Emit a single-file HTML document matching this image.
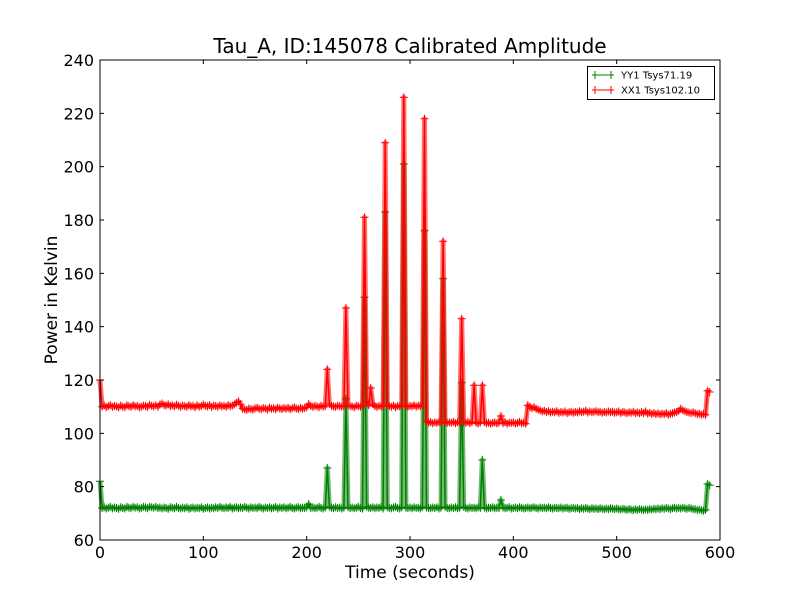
<!DOCTYPE html>
<html><head><meta charset="utf-8"><style>
html,body{margin:0;padding:0;background:#fff;}
svg text{font-family:"DejaVu Sans","Liberation Sans",sans-serif;fill:#000;}
</style></head><body>
<svg id="chart" width="800" height="600" viewBox="0 0 800 600">
<rect x="0" y="0" width="800" height="600" fill="#fff"/>
<g id="marks"></g>
<g id="axes"></g>
<text x="410" y="53" font-size="20" text-anchor="middle">Tau_A, ID:145078 Calibrated Amplitude</text>
<text x="410" y="578" font-size="17" text-anchor="middle">Time (seconds)</text>
<text x="57" y="300" font-size="17" text-anchor="middle" transform="rotate(-90 57 300)">Power in Kelvin</text>
<g>
<rect x="587.5" y="66.5" width="127" height="33" fill="#fff" stroke="#000" stroke-width="1"/>
<g>
<line x1="592" y1="75" x2="614" y2="75" stroke="green" stroke-width="1"/>
<line x1="595" y1="71" x2="595" y2="79" stroke="green"/><line x1="611" y1="71" x2="611" y2="79" stroke="green"/>
<text x="621" y="78.5" font-size="10">YY1 Tsys71.19</text></g>
<g>
<line x1="592" y1="90" x2="614" y2="90" stroke="red" stroke-width="1"/>
<line x1="595" y1="86" x2="595" y2="94" stroke="red"/><line x1="611" y1="86" x2="611" y2="94" stroke="red"/>
<text x="621" y="93.5" font-size="10">XX1 Tsys102.10</text></g>
</g>
</svg>
<script>
const tStep = 2;
const yy1 = [
82,72,72.3,71.8,72.1,72.4,71.9,72.2,72,71.7,
72.3,72,71.8,72.4,72.1,71.9,72.5,72.1,72.3,71.8,
72,72.4,72.2,71.9,72.5,72.3,72.1,72.4,72,72.2,
71.8,72.2,72,71.7,72.3,72.1,71.9,72.4,72,71.8,
72.1,71.9,72.3,71.7,72,72.2,71.8,72.1,71.9,72.3,
71.7,72,72.2,71.8,72.1,71.9,72.3,72,72.4,72.1,
71.9,72.2,72,72.5,71.8,72.1,72.3,71.9,72.2,72,
72.4,72.1,71.8,72.3,72,72.2,71.9,72.4,72.1,71.8,
72.2,72,72.3,71.9,72.1,72.4,71.8,72.2,72,72.3,
71.9,72.1,72.4,72,71.8,72.2,72.3,71.9,72.1,72,
72.3,73.5,72,72.2,71.9,72.1,72.4,72,71.8,72.2,
87,72.5,72.1,71.9,72.3,72,72.2,71.8,72.1,113,
72.3,72,72.2,71.9,72.1,72.4,72,71.8,151,72.5,
72.1,72,72.3,71.9,72.2,72,72.4,71.8,183,72.3,
72,71.9,72.2,72.4,72,71.8,72.3,201,72.1,72,
72.2,71.9,72.3,72,72.1,71.8,72.4,176,72.2,72,
71.9,72.2,72,72.3,71.8,72.1,158,72.4,72,71.9,
72.2,72,72.3,71.9,72.1,119,72.4,72,71.8,72.2,
72,72.1,71.9,72.3,72,90,72.2,71.8,72.1,72,
72.3,71.9,72.1,72,75,72.2,71.9,72.1,72.3,71.8,
72,72.2,71.9,72.3,72.1,71.8,72,72.2,71.9,72.1,
72.3,72,71.8,72.2,72,72.1,71.9,72.3,72,71.8,
72.1,72,71.9,72.2,71.8,72,72.1,71.7,71.9,72,
71.8,72,71.6,71.9,71.7,72,71.8,71.5,71.9,71.7,
71.8,71.6,71.9,71.7,71.5,71.8,71.6,71.9,71.7,71.5,
71.8,71.6,71.4,71.7,71.5,71.3,71.6,71.4,71.2,71.5,
71.3,71.6,71.4,71.2,71.5,71.3,71.6,71.4,71.7,71.5,
71.8,71.6,71.9,71.7,72,71.8,71.6,71.9,72.1,71.8,
72,71.8,72.1,71.9,71.7,72,71.8,71.6,71.5,71.3,
71.4,71.2,71,71.3,81,80.5];
const xx1 = [
120,110,110.5,109.8,110.2,110.6,109.9,110.3,110.1,109.7,
110.4,110,109.8,110.5,110.2,109.9,110.6,110.1,110.3,109.8,
110,110.4,110.2,109.9,110.7,110.3,110.1,110.5,110,110.8,
111.2,110.6,110.4,110.9,110.2,110.5,110.1,110.7,110.3,110,
110.4,110.2,109.9,110.6,110.1,110.3,109.8,110.5,110,110.2,
110.8,110.3,110.1,110.6,109.9,110.4,110.2,110,110.5,110.1,
110.3,109.9,110.6,110.2,110.4,110.8,111.5,112,110.9,109.2,
109,108.8,109.3,109.1,108.9,109.4,109.6,109.2,109,109.5,
109.3,108.9,109.6,109.2,109.4,109,109.7,109.3,109.1,109.5,
109.2,109.6,109,109.4,109.8,109.3,109.1,109.6,109.2,109.5,
109.8,111,110.2,109.9,110.3,110.1,109.8,110.4,110,110.2,
124,111,110.3,110.1,109.9,110.4,110.2,110,110.3,147,
110.5,110.2,110.1,109.8,110.4,110.2,110,110.3,181,112,
110.5,117,111,110.2,109.9,110.3,110.1,110.4,209,110.6,
110.2,110,110.4,109.8,110.3,110.1,110.5,226,110.2,110,
110.3,110.1,110.5,110,110.4,110.2,110.6,218,104.5,104,
104.2,103.8,104.1,103.9,104.3,104,172,104.2,103.9,104.1,
104,104.3,103.8,104.2,104,143,104.1,103.9,104.3,103.8,
104.2,118,104,103.7,104.1,118,104.2,103.8,104,103.6,
103.9,104.1,103.7,104,106.5,103.8,104.2,103.6,104,103.9,
104.1,103.7,103.9,104.3,103.8,104,103.6,110.5,110,109.4,
109.8,109.2,108.9,108.6,108.2,108.5,108,108.3,107.8,108.1,
107.9,108.3,107.7,108,107.8,108.2,107.6,107.9,108.1,107.7,
108,107.8,108.3,107.9,108.1,108.5,107.8,108.2,107.9,108.1,
108.3,107.9,108.1,107.7,108,107.8,108.2,107.9,108.1,107.7,
107.9,108.2,107.6,108,107.8,107.5,107.9,107.7,108.1,107.6,
107.8,107.5,107.9,107.6,108.2,107.4,107.7,107.3,107.6,107.2,
107.5,107.1,107.4,107.2,107.6,107,107.3,107.5,107.8,108,
108.4,109.2,108.6,108.3,108,107.8,107.6,107.9,107.5,107.2,
107.4,107,107.3,106.9,116,115.5];
const xTicks = [0,100,200,300,400,500,600];
const yTicks = [60,80,100,120,140,160,180,200,220,240];

const L=100,R=720,T=60,B=540, X0=0,X1=600,Y0=60,Y1=240;
const sx=v=>L+(v-X0)/(X1-X0)*(R-L);
const sy=v=>B-(v-Y0)/(Y1-Y0)*(B-T);
const NS='http://www.w3.org/2000/svg';
const marks=document.getElementById('marks');
const axes=document.getElementById('axes');
function mk(tag,attrs,parent){const e=document.createElementNS(NS,tag);for(const k in attrs)e.setAttribute(k,attrs[k]);parent.appendChild(e);return e;}

function drawSeries(vals,color,name){
  const g=mk('g',{},marks);
  
  
  let d='';
  vals.forEach((v,i)=>{d+=(i?'L':'M')+sx(i*tStep).toFixed(1)+','+sy(v).toFixed(1);});
  const band=mk('path',{d:d,fill:'none',stroke:color,'stroke-width':5,'stroke-opacity':0.55,'stroke-linejoin':'round'},g);
  
  
  const p=mk('path',{d:d,fill:'none',stroke:color,'stroke-width':1.5,'stroke-linejoin':'round'},g);
  
  
  let md='';
  vals.forEach((v,i)=>{const x=sx(i*tStep),y=sy(v);md+=`M${(x-4).toFixed(1)},${y.toFixed(1)}h8M${x.toFixed(1)},${(y-4).toFixed(1)}v8`;});
  const m=mk('path',{d:md,fill:'none',stroke:color,'stroke-width':1},g);
  
  
}
drawSeries(yy1,'green','series-yy1');
drawSeries(xx1,'red','series-xx1');

const frame=mk('rect',{x:L,y:T,width:R-L,height:B-T,fill:'none',stroke:'#000','stroke-width':1},axes);


xTicks.forEach(v=>{
  const x=sx(v);
  const t=mk('path',{d:`M${x},${B}v-4M${x},${T}v4`,stroke:'#000','stroke-width':1},axes);
  
  
  const lb=mk('text',{x:x,y:B+18,'font-size':16,'text-anchor':'middle'},axes);
  lb.textContent=v;
  
  
});
yTicks.forEach(v=>{
  const y=sy(v);
  const t=mk('path',{d:`M${L},${y}h4M${R},${y}h-4`,stroke:'#000','stroke-width':1},axes);
  
  
  const lb=mk('text',{x:L-6,y:y+6,'font-size':16,'text-anchor':'end'},axes);
  lb.textContent=v;
  
  
});
</script>
</body></html>
